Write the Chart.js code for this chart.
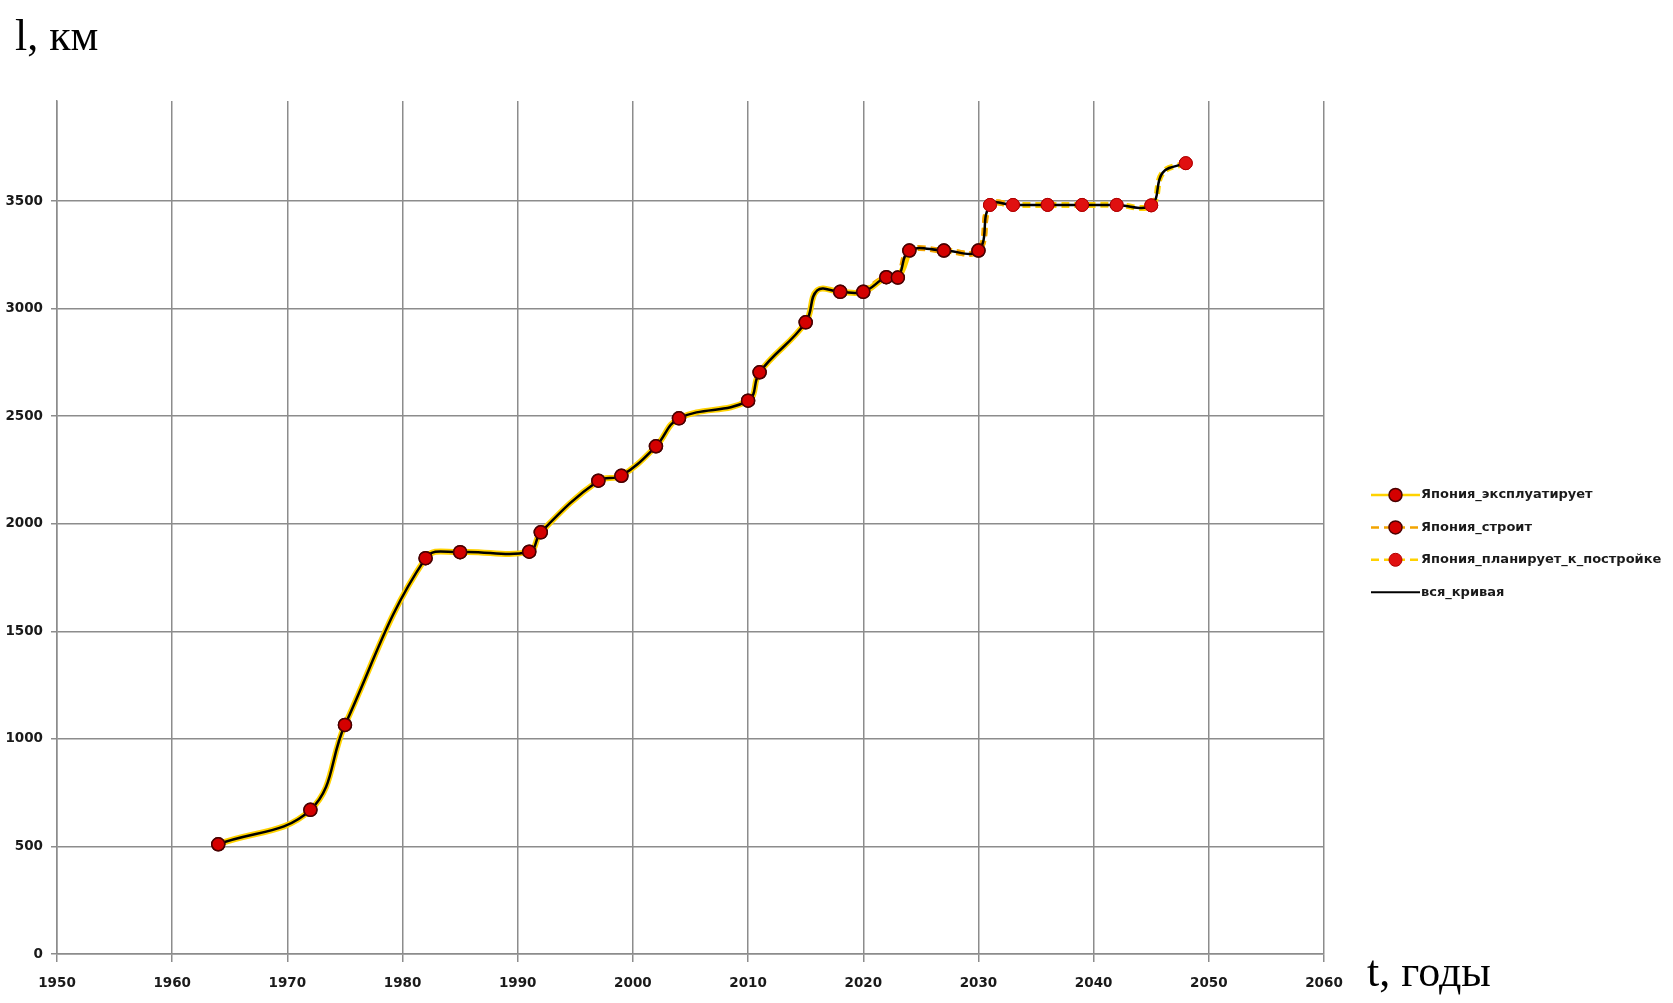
<!DOCTYPE html>
<html>
<head>
<meta charset="utf-8">
<script src="https://cdn.jsdelivr.net/npm/chart.js@4.4.1/dist/chart.umd.min.js"></script>
<style>
html, body { margin: 0; padding: 0; background: #fff; }
canvas { display: block; }
</style>
</head>
<body>
<canvas id="myChart" width="1673" height="1003"></canvas>
<script>
// годы и длина сети, км
var years   = [1964, 1972, 1975, 1982, 1985, 1991, 1992, 1997, 1999, 2002, 2004, 2010, 2011, 2015, 2016,
               2018, 2020, 2022, 2023, 2024, 2027, 2030, 2031, 2033, 2036, 2039, 2042, 2045, 2046, 2048];
var lengths = [510, 670, 1065, 1840, 1868, 1870, 1960, 2200, 2223, 2360, 2490, 2572, 2704, 2936, 3085,
               3078, 3078, 3146, 3144, 3270, 3270, 3270, 3482, 3482, 3482, 3482, 3482, 3480, 3632, 3676];
// точки без маркера (только на кривой)
var noMarker = [2016, 2046];
// границы серий
var operatingRange = [1964, 2022];
var buildingRange  = [2023, 2030];
var plannedRange   = [2031, 2048];

var seriesNames = ['Япония_эксплуатирует', 'Япония_строит', 'Япония_планирует_к_постройке', 'вся_кривая'];
var xTicks = [1950, 1960, 1970, 1980, 1990, 2000, 2010, 2020, 2030, 2040, 2050, 2060];
var yTicks = [0, 500, 1000, 1500, 2000, 2500, 3000, 3500];

// точки серии + по два соседа с каждой стороны, чтобы сглаживание совпадало с общей кривой
function points(range) {
    var a = years.indexOf(range[0]), b = years.indexOf(range[1]);
    var out = [];
    for (var i = Math.max(0, a - 2); i <= Math.min(years.length - 1, b + 2); i++) {
        out.push({ x: years[i], y: lengths[i] });
    }
    return out;
}

function markerRadius(c) {
    var p = c.raw, r = c.dataset.own;
    if (!p || !r) return 0;
    if (noMarker.indexOf(p.x) >= 0 || p.x < r[0] || p.x > r[1]) return 0;
    return 6.5;
}

var gridColor = '#8c8c8c';
var tickFont = { family: '"DejaVu Sans", sans-serif', size: 13.5, weight: 'bold' };

// маркеры поверх черной кривой
var markersOnTop = {
    id: 'markersOnTop',
    afterDatasetsDraw: function (chart) {
        chart.data.datasets.forEach(function (ds, i) {
            if (ds.order !== 1) return;
            chart.getDatasetMeta(i).data.forEach(function (pt) { pt.draw(chart.ctx, chart.chartArea); });
        });
    }
};

// подписи осей и легенда
var labelsAndLegend = {
    id: 'labelsAndLegend',
    afterDraw: function (chart) {
        var ctx = chart.ctx;
        ctx.save();
        ctx.fillStyle = '#000';
        ctx.textBaseline = 'alphabetic';
        ctx.textAlign = 'left';
        ctx.font = '44px "Liberation Serif", serif';
        ctx.fillText('l, км', 15, 50);
        ctx.fillText('t, годы', 1367, 986);

        var ds = chart.data.datasets;
        var lx = 1371, len = 49, tx = 1421, y0 = 495, dy = 32.4;
        ctx.font = 'bold 13px "DejaVu Sans", sans-serif';
        ctx.textBaseline = 'middle';
        for (var i = 0; i < ds.length; i++) {
            var y = y0 + i * dy;
            var d = ds[i];
            ctx.strokeStyle = d.borderColor;
            ctx.lineWidth = i === 3 ? 2 : 2.5;
            ctx.setLineDash(d.borderDash || []);
            ctx.beginPath();
            ctx.moveTo(lx, y);
            ctx.lineTo(lx + len, y);
            ctx.stroke();
            ctx.setLineDash([]);
            if (i < 3) {
                ctx.beginPath();
                ctx.arc(lx + len / 2, y, 6.5, 0, Math.PI * 2);
                ctx.fillStyle = d.pointBackgroundColor;
                ctx.fill();
                ctx.lineWidth = d.pointBorderWidth;
                ctx.strokeStyle = d.pointBorderColor;
                ctx.stroke();
            }
            ctx.fillStyle = '#1a1a1a';
            ctx.fillText(d.label, tx, y);
        }
        ctx.restore();
    }
};

var ctx = document.getElementById('myChart').getContext('2d');
var chart = new Chart(ctx, {
    type: 'line',
    data: {
        datasets: [{
            label: seriesNames[0],
            data: points(operatingRange),
            own: operatingRange,
            borderColor: '#ffd200',
            borderWidth: 6,
            tension: 0.4,
            pointRadius: markerRadius,
            pointBackgroundColor: '#d40000',
            pointBorderColor: '#4a0000',
            pointBorderWidth: 1.5,
            order: 1
        }, {
            label: seriesNames[1],
            data: points(buildingRange),
            own: buildingRange,
            borderColor: '#f2a400',
            borderDash: [8, 5],
            borderWidth: 6,
            tension: 0.4,
            pointRadius: markerRadius,
            pointBackgroundColor: '#d40000',
            pointBorderColor: '#4a0000',
            pointBorderWidth: 1.5,
            order: 1
        }, {
            label: seriesNames[2],
            data: points(plannedRange),
            own: plannedRange,
            borderColor: '#ffd200',
            borderDash: [8, 5],
            borderWidth: 6,
            tension: 0.4,
            pointRadius: markerRadius,
            pointBackgroundColor: '#e01010',
            pointBorderColor: '#b00000',
            pointBorderWidth: 1,
            order: 1
        }, {
            label: seriesNames[3],
            data: points([years[0], years[years.length - 1]]),
            borderColor: '#000000',
            borderWidth: 2.5,
            tension: 0.4,
            pointRadius: 0,
            order: 0
        }]
    },
    options: {
        responsive: false,
        animation: false,
        layout: { padding: { left: 0, right: 349, top: 101, bottom: 0 } },
        plugins: {
            legend: { display: false },
            tooltip: { enabled: false }
        },
        scales: {
            x: {
                type: 'linear',
                min: 1950,
                max: 2060,
                afterBuildTicks: function (s) { s.ticks = xTicks.map(function (v) { return { value: v }; }); },
                afterFit: function (s) { s.height = 49; },
                ticks: {
                    font: tickFont,
                    color: '#1a1a1a',
                    padding: 13,
                    maxRotation: 0,
                    callback: function (v) { return String(v); }
                },
                grid: { color: gridColor, lineWidth: 1.5, tickLength: 8, tickColor: gridColor },
                border: { color: gridColor, width: 1.5 }
            },
            y: {
                min: 0,
                max: 3965,
                afterBuildTicks: function (s) { s.ticks = yTicks.map(function (v) { return { value: v }; }); },
                afterFit: function (s) { s.width = 57; },
                ticks: {
                    font: tickFont,
                    color: '#1a1a1a',
                    padding: 8,
                    callback: function (v) { return String(v); }
                },
                grid: { color: gridColor, lineWidth: 1.5, tickLength: 6, tickColor: gridColor },
                border: { color: gridColor, width: 1.5 }
            }
        }
    },
    plugins: [markersOnTop, labelsAndLegend]
});
</script>
</body>
</html>
